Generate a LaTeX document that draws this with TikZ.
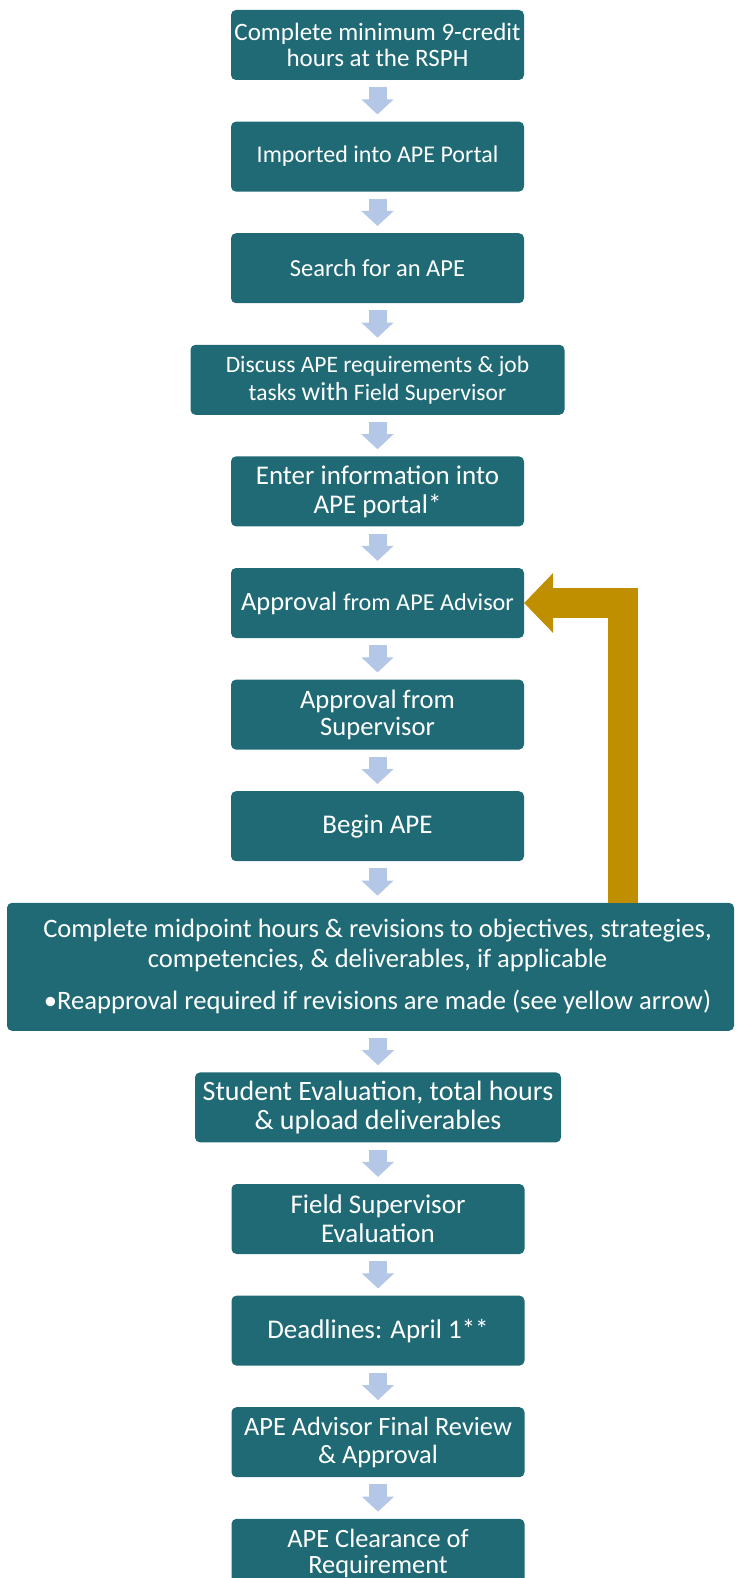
\documentclass[tikz,border=0pt]{standalone}
\usepackage{fontspec}
\setmainfont{Carlito}
\usetikzlibrary{positioning, arrows.meta}
\definecolor{boxTeal}{RGB}{31,106,117}
\definecolor{arrowBlue}{RGB}{180,199,231}
\definecolor{loopGold}{RGB}{191,143,0}
\tikzset{StepBox/.style={%
    shape=rectangle,%
    rounded corners=5pt,%
    fill=boxTeal,%
    text=white,%
    minimum width=293pt,%
    minimum height=70pt,%
    inner sep=2pt,%
    align=center,%
    font=\fontsize{27}{29}\selectfont,%
    node distance=41.2pt,%
}}
\tikzset{TextSize/.style 2 args={font=\fontsize{#1}{#2}\selectfont}}
\tikzset{FlowArrow/.style={%
    -{Triangle[width=32pt,length=15pt,line width=1pt]},%
    color=arrowBlue,%
    line width=18pt,%
    shorten <=7pt,%
    shorten >=7pt,%
}}
\tikzset{ReturnArrow/.style={%
    -{Triangle[width=60pt,length=29pt,line width=1pt]},%
    color=loopGold,%
    line width=30pt,%
    line join=miter,%
}}
\NewDocumentCommand{\sizedText}{m m}{%
    {\fontsize{#1}{27}\selectfont #2}%
}

\begin{document}
\begin{tikzpicture}[x=1pt, y=1pt]
    \useasboundingbox (0,0) rectangle (740,-1578);

    \node[StepBox, TextSize={25}{26}] (v1) at (377.5,-45) {Complete minimum 9-credit\\hours at the RSPH};
    \node[StepBox, TextSize={24}{26}, below=of v1] (v2) {Imported into APE Portal};
    \node[StepBox, TextSize={24.5}{26}, below=of v2] (v3) {Search for an APE};
    \node[StepBox, TextSize={23.5}{28}, below=of v3, minimum width=374pt] (v4)
        {Discuss APE requirements \& job\\tasks \sizedText{26}{with} Field Supervisor};
    \node[StepBox, below=of v4] (v5) {Enter information into\\APE portal*};
    \node[StepBox, TextSize={26.5}{28}, below=of v5] (v6) {Approval \sizedText{24.2}{from APE Advisor}};
    \node[StepBox, TextSize={26.6}{27}, below=of v6] (v7) {Approval from\\Supervisor};
    \node[StepBox, below=of v7] (v8) {Begin APE};
    \node[StepBox, below=of v8, xshift=-7pt, minimum width=727pt, minimum height=128pt,
        TextSize={26.6}{30}] (v9)
        {\hspace*{14pt}Complete midpoint hours \& revisions to objectives, strategies,\\
         \hspace*{14pt}competencies, \& deliverables, if applicable\\[12pt]
         \hspace*{14pt}\textbullet Reapproval required if revisions are made (see yellow arrow)};
    \node[StepBox, TextSize={28}{29}, below=of v9, xshift=7.5pt, minimum width=366pt] (v10)
        {Student Evaluation, total hours\\\& upload deliverables};
    \node[StepBox, below=of v10] (v11) {Field Supervisor\\Evaluation};
    \node[StepBox, below=of v11] (v12) {Deadlines: April 1**};
    \node[StepBox, TextSize={26.4}{27.5}, below=of v12] (v13) {APE Advisor Final Review\\\& Approval};
    \node[StepBox, TextSize={26.4}{26}, below=of v13] (v14) {APE Clearance of\\Requirement};

    \draw[FlowArrow] (v1) -- (v2);
    \draw[FlowArrow] (v2) -- (v3);
    \draw[FlowArrow] (v3) -- (v4);
    \draw[FlowArrow] (v4) -- (v5);
    \draw[FlowArrow] (v5) -- (v6);
    \draw[FlowArrow] (v6) -- (v7);
    \draw[FlowArrow] (v7) -- (v8);
    \draw[FlowArrow] (v8.south) -- (v8.south |- v9.north);
    \draw[FlowArrow] (v10.north |- v9.south) -- (v10.north);
    \draw[FlowArrow] (v10) -- (v11);
    \draw[FlowArrow] (v11) -- (v12);
    \draw[FlowArrow] (v12) -- (v13);
    \draw[FlowArrow] (v13) -- (v14);

    % loop back for reapproval
    \coordinate (loopX) at (623,0);
    \draw[ReturnArrow] (v9.north -| loopX) |- (v6.east);
\end{tikzpicture}
\end{document}
